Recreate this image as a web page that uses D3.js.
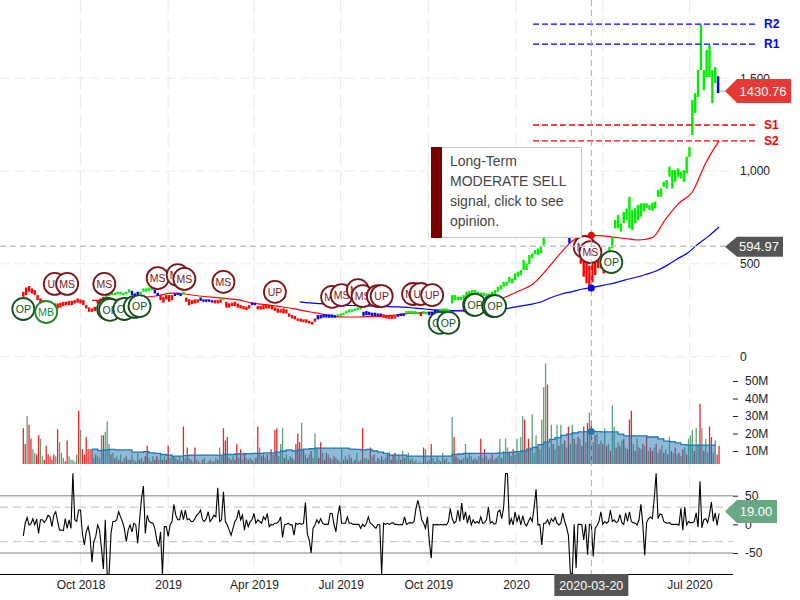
<!DOCTYPE html>
<html>
<head>
<meta charset="utf-8">
<script src="https://cdn.jsdelivr.net/npm/d3@7/dist/d3.min.js"></script>
<style>
html,body{margin:0;padding:0;background:#fff;}
svg{display:block;font-family:"Liberation Sans",Arial,sans-serif;}
</style>
</head>
<body>
<svg id="chart" width="800" height="600"></svg>
<script>
// ---- time ----
const firstDay = new Date(2018, 7, 2);
const gridDates = [new Date(2018,9,1),new Date(2019,0,1),new Date(2019,3,1),new Date(2019,6,1),new Date(2019,9,1),new Date(2020,0,1),new Date(2020,3,1),new Date(2020,6,1)];
const xTickDates = [new Date(2018,9,1),new Date(2019,0,1),new Date(2019,3,1),new Date(2019,6,1),new Date(2019,9,1),new Date(2020,0,1),new Date(2020,6,1)];
const xTickLabels = ["Oct 2018","2019","Apr 2019","Jul 2019","Oct 2019","2020","Jul 2020"];
const crossDate = new Date(2020,2,20);
const crossLabel = "2020-03-20";

// ---- price, one stick every 3 days ----
const priceHigh = [
349,372,380,367,358,331,313,304,295,286,
277,286,286,290,295,295,300,300,304,313,
308,304,277,264,259,268,304,313,322,336,
340,344,344,349,349,344,349,362,354,340,
349,349,367,367,372,372,362,344,331,322,
331,331,331,340,344,340,349,318,308,304,
308,308,318,308,308,308,304,304,304,308,
317,295,286,290,295,286,277,272,268,277,
291,290,272,272,277,277,277,272,264,259,
254,259,254,232,223,218,205,205,200,200,
192,187,205,223,223,228,228,227,227,223,
228,232,236,246,254,254,259,264,268,241,
245,241,236,236,232,232,228,223,219,218,
218,228,232,232,245,246,245,245,241,236,
245,241,241,241,250,250,254,259,259,254,
331,331,322,322,331,349,354,358,358,349,
344,344,340,340,349,358,376,385,403,403,
430,421,448,457,466,520,502,547,556,574,
582,592,640,690,750,950,900,850,940,960,
820,700,750,720,690,600,540,530,490,540,
531,531,520,493,560,590,646,736,763,718,
780,798,861,790,799,817,826,826,826,817,
829,835,897,906,942,951,1023,1005,1005,1014,
996,1005,1077,1129,1382,1420,1544,1787,1544,1652,
1679,1544,1560,1511];
const priceLow = [
322,331,349,340,331,304,286,286,268,264,
259,268,259,264,272,277,277,277,286,290,
286,277,259,241,241,246,286,286,304,318,
326,331,331,335,335,331,336,344,331,327,
331,336,349,349,354,358,340,326,304,290,
308,295,304,326,331,326,336,295,277,282,
286,290,300,295,295,295,291,286,286,290,
304,264,264,272,272,264,259,254,250,259,
277,277,254,254,254,259,259,254,246,236,
236,232,232,214,205,200,192,187,185,182,
178,173,187,200,205,210,210,209,209,209,
218,219,223,232,237,241,246,250,254,219,
223,223,219,219,219,218,209,205,203,203,
205,214,218,218,232,232,232,228,228,218,
228,227,223,223,232,236,241,245,245,241,
286,304,304,304,308,322,331,340,340,331,
326,326,322,322,326,331,349,362,376,380,
398,394,412,430,439,466,466,498,529,552,
546,556,600,640,680,800,800,790,860,880,
680,610,650,640,600,500,430,395,352,400,
439,477,475,448,480,520,584,691,691,673,
718,736,691,682,718,736,754,781,799,790,
786,799,861,861,915,906,969,906,942,969,
960,942,987,1075,1194,1312,1399,1544,1436,1507,
1507,1366,1474,1420];
const signalColors = ["r","g","b","g","b","r","b","g","r","b","r","g","r","b","r","b","g","b","r","b","g","r","g","b","g","b","r","g","b"];
const signalLengths = [29,9,3,5,2,5,3,1,5,5,3,1,9,2,21,7,9,7,5,3,5,1,2,4,44,2,12,39,1];

// ---- moving averages ----
const longAvgStart = new Date(2018,9,13);
const longAvg = [302,305,310,315,320,329,342,337,326,320,313,305,288,280,270,259,245,232,218,213,213,216,218,226,234,237,240,245,251,267,294,321,353,388,461,547,623,652,652,644,636,628,641,741,827,887,1043,1162];
const slowAvgStart = new Date(2019,4,19);
const slowAvg = [295,289,285,280,277,275,273,272,270,268,266,261,256,251,249,247,245,246,248,251,261,272,281,294,318,337,350,364,372,385,396,412,426,442,461,490,526,558,606,649,698];

// ---- levels ----
const levelNames = ["R2","R1","S1","S2"];
const levelValues = [1792,1684,1248,1162];
const priceTicks = [0,500,1000,1500];
const lastPrice = 1430.76;
const crossPrice = 594.97;
const crossLongAvg = 654;
const crossSlowAvg = 369;

// ---- markers (days from 2018-10-01) ----
const markerLabels = ["OP","MB","UP","MS","MS","OP","OP","OP","OP","OP","MS","MS","MS","MS","UP","MS","MS","MS","MS","UP","UP","MS","UP","UP","OP","OP","OP","OP","OP","OP","MS","MS","OP"];
const markerDays =   [-60,-36,-27,-14,25,29,31,46,57,62,81,102,109,150,204,264,274,291,296,312,316,349,357,369,377,386,413,414,433,435,529,535,557];
const markerPrices = [256,240,391,391,391,256,251,256,267,272,423,439,418,402,348,321,331,358,326,326,326,337,337,331,181,181,278,278,272,272,590,563,509];

// ---- volume in millions, one bar every 2 days; negative = down day ----
const volume = [
-23,-14,30,-25,-17,11,9,-8,-19,17,
7,-5,-13,-8,-7,-5,-8,7,-22.5,15,
9,6,-4,-16,7,5,5,4,8,-33,
22,-11,-8,-18,-11,-11,-11,6,-8,7,
6,19,-19,21,27,14,-8,9,-6,7,
-5,8,-4,6,-7,5,-5,8,5,-4,
9,-5,6,-4,-7,-13,6,-4,7,-5,
-7,5,8,-5,7,-5,-13,6,8,-7,
6,-5,7,-4,-24,6,-12,6,-5,4,
-12,5,-4,3,-5,6,-3,4,-5,4,
-4,6,-5,12,7,-23,-16,-18,6,-5,
7,-5,-14,6,-11,5,-9,6,-5,6,
-5,4,-6,-24,12,-7,-8,6,-8,5,
-11,8,-22,-23,7,14,23,-6,8,-5,
7,-6,5,-14,-20,-15,26,-11,8,-6,
8,-10,6,20,12,-6,-15,9,-5,-9,
8,-6,5,-7,6,-5,4,11,-5,7,
-5,8,-6,4,-5,9,-4,5,-23,6,
6,-5,-12,7,-8,4,-6,5,-7,5,
6,-8,9,-5,-8,-9,5,8,-5,10,
-6,7,9,-5,6,-4,5,-3,4,-3,
-12,11,-4,5,-14,6,-4,7,5,-4,
9,-5,6,4,-3,29.5,-18,-7,6,-5,
-5,6,14,-6,9,7,-5,6,-5,7,
-17,6,-11,7,-5,6,-8,5,-6,7,
17,-6,10,17,12,-9,7,-11,8,17,
-9,18,30,-28,10,-17,12,31,9,19,
-12,11,28,46.5,60,-48,12,25,-14,11,
25,-13,25,14,-16,12,-24,14,25,-17,
14,-18,17,-13,-24,15,-26,32,-27,15,
-19,20,-14,16,-14,23,-13,14,-10,36,
24,-12,15,-13,16,-17,12,-11,-28,-33,
14,-10,17,-12,11,-14,13,-19,10,-12,
-10,12,-14,9,-11,13,-9,11,-8,18,
-10,9,-12,8,-9,7,-11,12,-8,17,
19,22,-10,23,14,-37,23,-10,17,9,
-24,-18,9,16,-8,-13];
const volumeAvgStart = new Date(2018,9,13);
const volumeAvg = [
11.1,10.3,10.6,10.9,10.6,10.6,10.6,9.4,9.4,9.7,
8.9,8.6,8,7.7,7.1,7.1,7.4,7.7,7.7,7.7,
7.7,7.7,7.7,8,8,8.3,8.3,8.5,8.6,8.6,
8.9,8.9,9.4,10,10.6,10,10.6,11.1,11.3,11.7,
11.7,11.7,11.7,11.7,11.7,11.1,10.9,10.6,10.9,10,
9.4,8.6,7.7,7.7,7.7,7.1,7.1,7.1,7.1,7.1,
7.1,7.1,7.1,8,8.3,8.6,8.6,8.6,8.6,8.6,
8.6,8.9,9.1,9.4,9.7,10,11.1,12,13.7,15.1,
16.6,17.7,18.9,19.7,20.3,20.9,21.1,21.4,21.1,20.9,
20.9,20.9,19.7,18.6,18.6,18.6,18.6,18,18,16.9,
15.7,15.4,14.6,13.7,13.4,13.4,13.4,13.4,13.4,13.4];
const volumeTicks = [10,20,30,40,50];
const crossVolumeAvg = 21.2;

// ---- oscillator, one point every 2 days ----
const oscillator = [
-20,2,12,-1,1,10,-1,9,-16,8,
8,3,8,16,13,-4,16,22,5,-10,
-10,-11,10,-7,8,-7,89,8,5,25,
25,-16,-36,-13,-4,-21,-66,-30,-21,-1,
-10,-42,-78,8,-87,-87,-16,5,5,8,
22,13,5,-7,-30,-10,-1,-13,2,-1,
-33,8,45,67,-16,16,5,3,2,-7,
-27,-39,-13,-87,-4,-4,-21,-1,5,35,
16,8,8,25,8,25,8,10,5,5,
10,16,19,25,8,5,10,22,5,10,
16,13,64,5,8,57,5,-1,-10,-19,
-7,5,10,25,8,16,-10,8,-4,5,
8,19,2,8,5,2,13,8,19,-4,
0,-1,2,2,5,13,-23,-1,0,2,
-1,-1,-19,2,0,2,0,2,38,-17,
-27,-50,-7,-1,8,2,10,2,0,0,
0,19,19,0,-13,16,33,2,2,2,
13,2,2,0,0,0,0,-7,0,-4,
2,13,2,0,-4,-7,0,-1,-87,2,
0,2,0,2,3,0,0,-1,
0,-1,13,0,2,3,2,5,28,42,
28,8,2,-7,13,-30,-59,0,-1,0,
-1,0,-1,0,-1,5,28,10,2,5,
25,5,37,8,22,2,16,-1,8,2,
5,2,13,2,3,8,30,2,5,0,
2,22,25,10,30,89,89,-1,10,-1,
22,5,15,-1,15,2,-3,5,12,5,
30,61,-1,0,-36,2,2,8,0,10,
5,12,2,-1,2,20,5,-5,-20,-85,
-87,0,-76,0,0,-1,-27,0,-53,0,
-1,-56,-7,-2,5,22,0,5,2,5,
25,5,8,3,5,17,3,0,20,5,
22,5,3,2,-1,8,35,0,-54,3,
10,13,10,45,89,10,18,17,5,3,
2,3,0,0,0,0,-1,28,-10,30,
-1,5,3,3,5,20,-5,75,-6,8,
10,3,18,39,5,20,-2,19];
const oscillatorTicks = [-50,0,50];
const oscSolidLevels = [50,-50];
const oscDashLevels = [30,-30];
const lastOscillator = 19;

// ---- tooltip ----
const tooltipLines = ["Long-Term","MODERATE SELL","signal, click to see","opinion."];

// ---- scales ----
const x = d3.scaleTime().domain([gridDates[0], gridDates[7]]).range([80.5, 689.5]);
const yP = d3.scaleLinear().domain([0,1500]).range([356.5,78.25]);
const yV = d3.scaleLinear().domain([0,50]).range([468.5,381]);
const yO = d3.scaleLinear().domain([-50,50]).range([553,495.7]);
const dayAfter = (d,n) => d3.timeDay.offset(d,n);

const svg = d3.select("#chart");
const defs = svg.append("defs");
defs.append("clipPath").attr("id","cv").append("rect").attr("x",0).attr("y",355).attr("width",733).attr("height",109);
defs.append("clipPath").attr("id","co").append("rect").attr("x",0).attr("y",473).attr("width",733).attr("height",101);

// ---- grid ----
const grid = svg.append("g").attr("fill","none").attr("stroke","#ececec").attr("stroke-width",1.2);
grid.selectAll("line.v").data(gridDates).join("line").attr("class","v")
  .attr("x1",d=>x(d)).attr("x2",d=>x(d)).attr("y1",0).attr("y2",574).attr("stroke-dasharray","14,5");
grid.selectAll("line.h").data(priceTicks).join("line").attr("class","h")
  .attr("x1",0).attr("x2",733).attr("y1",d=>yP(d)).attr("y2",d=>yP(d)).attr("stroke-dasharray","10,5");

// ---- volume ----
const vg = svg.append("g").attr("clip-path","url(#cv)");
vg.selectAll("rect").data(volume).join("rect")
  .attr("x",(d,i)=>x(dayAfter(firstDay,i*2))-0.65).attr("width",1.3)
  .attr("y",d=>yV(Math.abs(d))).attr("height",d=>yV(0)-yV(Math.abs(d)))
  .attr("fill",d=>d<0?"#e8262a":"#5fa07a");
const avX = (d,i)=>x(dayAfter(volumeAvgStart,i*6));
vg.append("path").datum(volumeAvg)
  .attr("d",d3.area().x(avX).y0(yV(0)).y1(d=>yV(d)).curve(d3.curveStepAfter))
  .attr("fill","#1f77b4").attr("fill-opacity",0.5);
vg.append("path").datum(volumeAvg)
  .attr("d",d3.line().x(avX).y(d=>yV(d)).curve(d3.curveStepAfter))
  .attr("fill","none").attr("stroke","#1f77b4").attr("stroke-width",1.3);

// ---- oscillator ----
const og = svg.append("g");
og.selectAll("line.s").data(oscSolidLevels).join("line").attr("class","s")
  .attr("x1",0).attr("x2",733).attr("y1",d=>yO(d)).attr("y2",d=>yO(d)).attr("stroke","#aaaaaa").attr("stroke-width",1.6);
og.selectAll("line.d").data(oscDashLevels).join("line").attr("class","d")
  .attr("x1",0).attr("x2",733).attr("y1",d=>yO(d)).attr("y2",d=>yO(d)).attr("stroke","#cccccc").attr("stroke-width",1.3).attr("stroke-dasharray","8,5");
og.append("path").datum(oscillator).attr("clip-path","url(#co)")
  .attr("d",d3.line().x((d,i)=>x(dayAfter(firstDay,i*2))).y(d=>yO(d)))
  .attr("fill","none").attr("stroke","#000").attr("stroke-width",1.1);

// ---- moving averages ----
svg.append("path").datum(longAvg)
  .attr("d",d3.line().x((d,i)=>x(dayAfter(longAvgStart,i*14))).y(d=>yP(d)).curve(d3.curveMonotoneX))
  .attr("fill","none").attr("stroke","#ff0000").attr("stroke-width",1.2);
svg.append("path").datum(slowAvg)
  .attr("d",d3.line().x((d,i)=>x(dayAfter(slowAvgStart,i*11))).y(d=>yP(d)).curve(d3.curveMonotoneX))
  .attr("fill","none").attr("stroke","#0000ff").attr("stroke-width",1.2);

// ---- price sticks ----
const signalOfPoint = signalColors.flatMap((c,i)=>d3.range(signalLengths[i]).map(()=>c));
const signalFill = {r:"#ff0000",g:"#00ee00",b:"#0000ff"};
svg.append("g").selectAll("rect").data(priceHigh).join("rect")
  .attr("x",(d,i)=>x(dayAfter(firstDay,i*3))-1.2).attr("width",2.4)
  .attr("y",d=>yP(d)).attr("height",(d,i)=>yP(priceLow[i])-yP(d))
  .attr("fill",(d,i)=>signalFill[signalOfPoint[i]]);

// ---- support / resistance ----
const lv = svg.append("g");
lv.selectAll("line").data(levelValues).join("line")
  .attr("x1",533).attr("x2",756).attr("y1",d=>yP(d)).attr("y2",d=>yP(d))
  .attr("stroke",(d,i)=>levelNames[i][0]==="R"?"#0000ff":"#ff0000").attr("stroke-width",1.3).attr("stroke-dasharray","6,3");
lv.selectAll("text").data(levelValues).join("text")
  .attr("x",764).attr("y",d=>yP(d)).attr("dy","0.36em")
  .attr("fill",(d,i)=>levelNames[i][0]==="R"?"#0000ff":"#ff0000")
  .attr("font-size",12).attr("font-weight","bold").text((d,i)=>levelNames[i]);

// ---- markers ----
const mk = svg.append("g").selectAll("g").data(markerLabels).join("g")
  .attr("transform",(d,i)=>`translate(${x(dayAfter(gridDates[0],markerDays[i]))},${yP(markerPrices[i])})`);
const markColor = l => l==="OP"?"#14511c":l==="MB"?"#1e8a2a":"#7d1518";
mk.append("circle").attr("r",11).attr("fill","#fff").attr("stroke",markColor).attr("stroke-width",1.8);
mk.append("text").attr("text-anchor","middle").attr("dy","0.36em").attr("font-size",10.5).attr("fill",markColor).text(d=>d);

// ---- crosshair ----
const ch = svg.append("g").attr("fill","none");
ch.append("line").attr("x1",x(crossDate)).attr("x2",x(crossDate)).attr("y1",0).attr("y2",574)
  .attr("stroke","#aaaaaa").attr("stroke-width",1).attr("stroke-dasharray","6,4");
ch.append("line").attr("x1",0).attr("x2",725).attr("y1",yP(crossPrice)).attr("y2",yP(crossPrice))
  .attr("stroke","#c4c4c4").attr("stroke-width",1.5).attr("stroke-dasharray","6,4");
svg.append("circle").attr("cx",x(crossDate)).attr("cy",yP(crossLongAvg)).attr("r",3.5).attr("fill","#ff0000");
svg.append("circle").attr("cx",x(crossDate)).attr("cy",yP(crossSlowAvg)).attr("r",3.5).attr("fill","#0000ff");
svg.append("circle").attr("cx",x(crossDate)).attr("cy",yV(crossVolumeAvg)).attr("r",3.5).attr("fill","#1f77b4");

// ---- axes ----
const axes = svg.append("g").attr("font-family","inherit");
function styleAxis(g){ g.selectAll("text").attr("font-size",12).attr("fill","#222").attr("font-family","inherit");
  g.selectAll(".tick line").attr("stroke","#222"); g.select(".domain").remove(); }
axes.append("g").attr("transform","translate(740,0)")
  .call(d3.axisRight(yP).tickValues(priceTicks).tickSize(0).tickPadding(0).tickFormat(d3.format(",")))
  .call(styleAxis);
axes.append("g").attr("transform","translate(733,0)")
  .call(d3.axisRight(yV).tickValues(volumeTicks).tickSize(5).tickPadding(7).tickFormat(d=>d+"M"))
  .call(styleAxis);
axes.append("g").attr("transform","translate(733,0)")
  .call(d3.axisRight(yO).tickValues(oscillatorTicks).tickSize(5).tickPadding(7).tickFormat(d=>d))
  .call(styleAxis);
svg.append("line").attr("x1",0).attr("x2",733).attr("y1",574.5).attr("y2",574.5).attr("stroke","#000").attr("stroke-width",1);
axes.append("g").attr("transform","translate(0,574)")
  .call(d3.axisBottom(x).tickValues(xTickDates).tickSize(0).tickPadding(6).tickFormat((d,i)=>xTickLabels[i]))
  .call(styleAxis);

// ---- tooltip ----
const tt = svg.append("g");
tt.append("rect").attr("x",431.5).attr("y",147.5).attr("width",150).attr("height",90).attr("fill","#fff").attr("stroke","#c8c8c8");
tt.append("rect").attr("x",431).attr("y",147).attr("width",11).attr("height",91).attr("fill","#7a0000");
tt.selectAll("text").data(tooltipLines).join("text")
  .attr("x",450).attr("y",(d,i)=>166+i*20).attr("font-size",14).attr("fill","#444").text(d=>d);

// ---- value tags ----
function tag(y0,left,right,h,fill,label,fs){
  const g = svg.append("g");
  const tip = left, b = left+12;
  g.append("polygon").attr("points",`${tip},${y0} ${b},${y0-h/2} ${right},${y0-h/2} ${right},${y0+h/2} ${b},${y0+h/2}`)
    .attr("fill",fill);
  g.append("text").attr("x",(b+right)/2-1).attr("y",y0).attr("dy","0.36em").attr("text-anchor","middle")
    .attr("font-size",fs).attr("fill","#fff").text(label);
}
svg.append("line").attr("x1",719).attr("x2",725).attr("y1",yP(lastPrice)).attr("y2",yP(lastPrice)).attr("stroke","#aaa");
tag(yP(lastPrice),725,791,24,"#e53935",d3.format(".2f")(lastPrice),13);
tag(yP(crossPrice)+0.6,725,783,20,"#555555",d3.format(".2f")(crossPrice),13);
tag(yO(lastOscillator)-2,725,777,23,"#6aa884",d3.format(".2f")(lastOscillator),13);

const dt = svg.append("g");
dt.append("rect").attr("x",x(crossDate)-37).attr("y",574).attr("width",74).attr("height",22).attr("fill","#555555");
dt.append("text").attr("x",x(crossDate)).attr("y",585).attr("dy","0.36em").attr("text-anchor","middle").attr("font-size",12.5).attr("fill","#fff").text(crossLabel);
</script>
</body>
</html>
